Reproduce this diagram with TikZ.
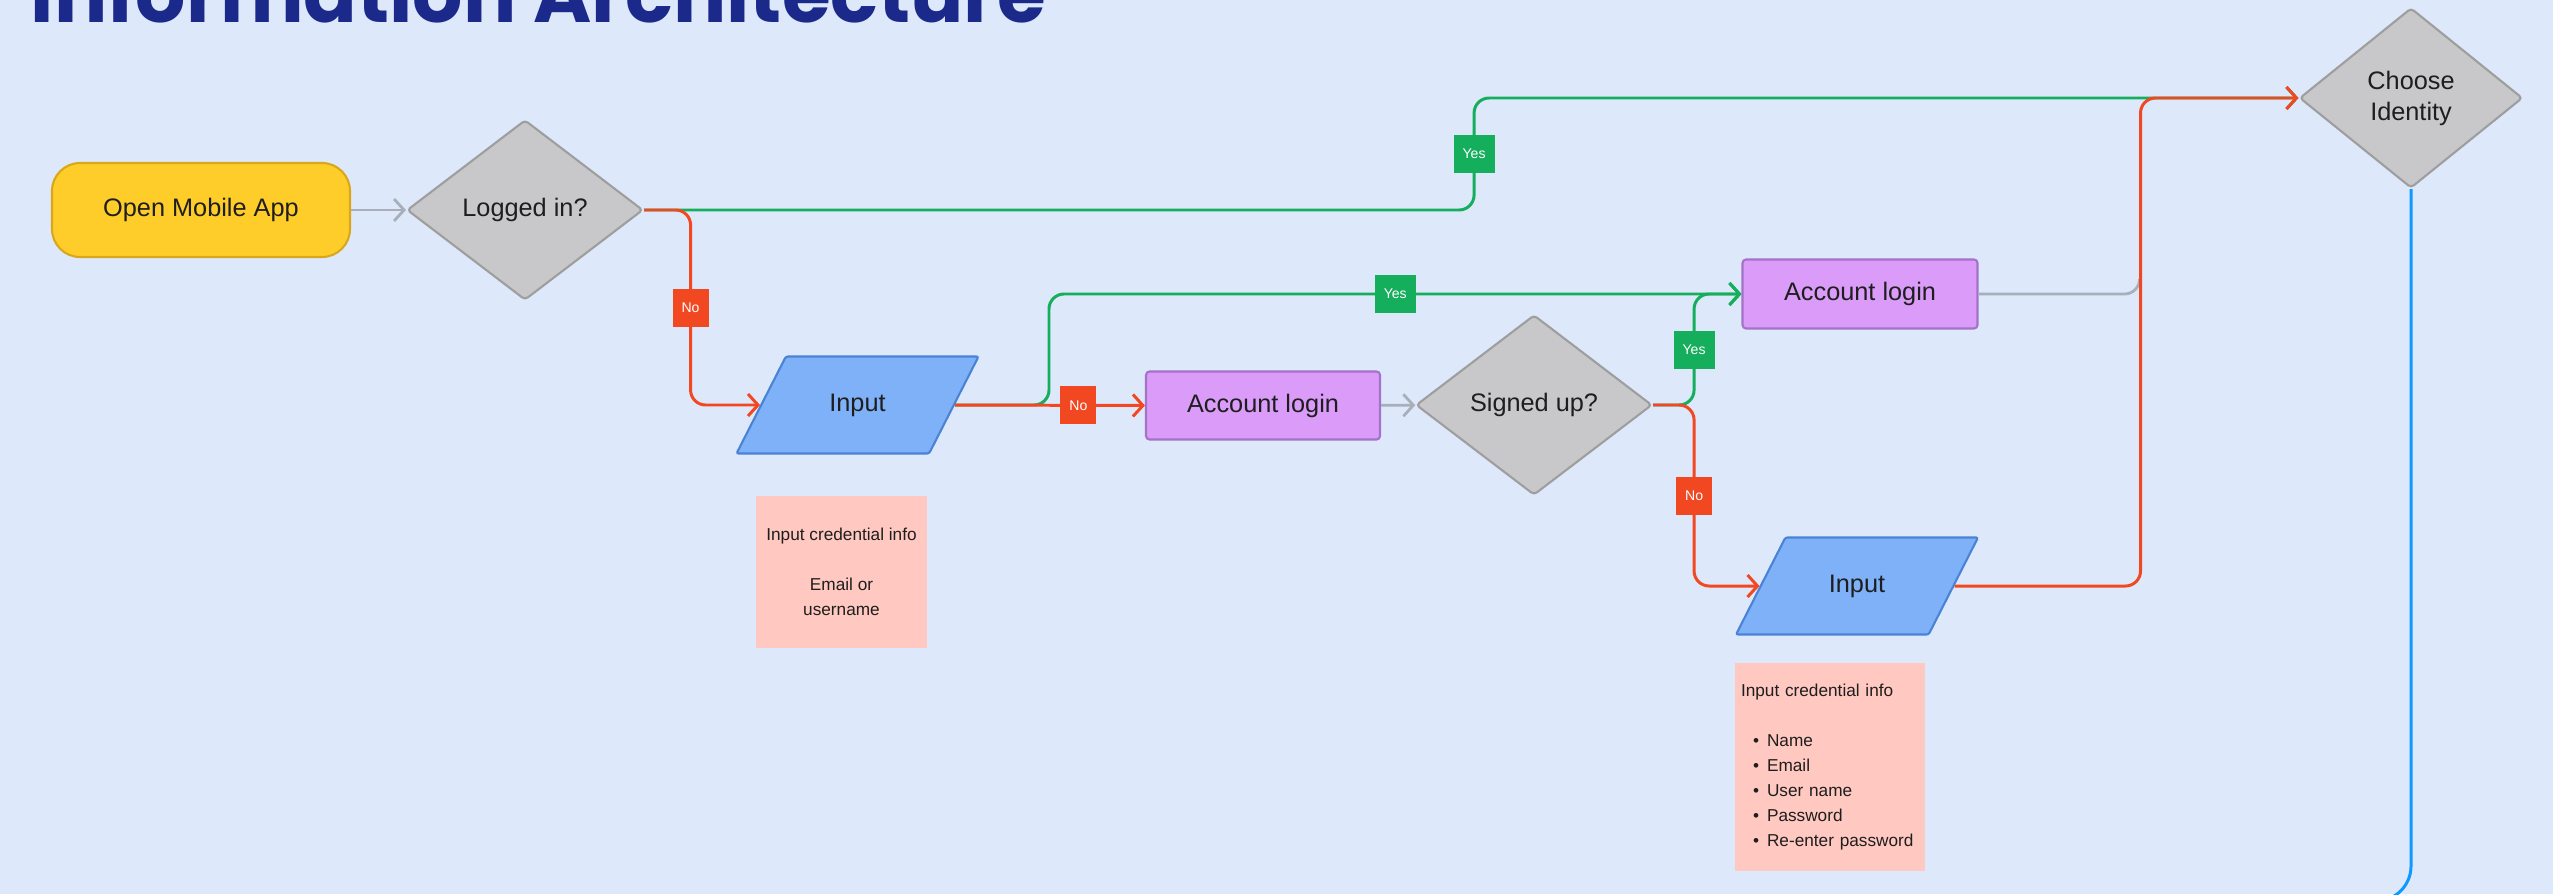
\documentclass[tikz,border=0pt]{standalone}
\usepackage{fontspec}
\setmainfont{Liberation Sans}
\newfontfamily\titlefont{Poppins}
\usepackage{tikz}
\usetikzlibrary{shapes.geometric, arrows.meta}

\definecolor{bgblue}{HTML}{DDE8FB}
\definecolor{titleblue}{HTML}{1B2A8A}
\definecolor{textdark}{HTML}{1E1E1E}
\definecolor{appyellow}{HTML}{FFCD29}
\definecolor{appyellowline}{HTML}{D9A81A}
\definecolor{decgray}{HTML}{C8C8CA}
\definecolor{decgrayline}{HTML}{9E9E9E}
\definecolor{inblue}{HTML}{7EB1F7}
\definecolor{inblueline}{HTML}{4A82D6}
\definecolor{loginpurple}{HTML}{DA9CF8}
\definecolor{loginpurpleline}{HTML}{A472C8}
\definecolor{notepink}{HTML}{FFC8C0}
\definecolor{yesgreen}{HTML}{14AE5C}
\definecolor{nored}{HTML}{F24822}
\definecolor{linkgray}{HTML}{A8AFBA}
\definecolor{flowblue}{HTML}{0D99FF}

\newcommand{\nodefont}{\fontsize{7.2}{8.8}\selectfont}
\newcommand{\notefont}{\fontsize{4.9}{7.1}\selectfont}
\newcommand{\tagfont}{\fontsize{4}{5}\selectfont}
\newcommand{\noteitem}[1]{\hspace*{1.2mm}\makebox[1.4mm][l]{\textbullet}#1}

\begin{document}
\begin{tikzpicture}[
        >={Straight Barb[length=1mm,width=2.2mm]},
        startbox/.style={rectangle, rounded corners=0.28cm, fill=appyellow, draw=appyellowline,
            line width=0.6pt, minimum width=2.98cm, minimum height=0.94cm, text=textdark, font=\nodefont},
        decision/.style={diamond, fill=decgray, draw=decgrayline, line width=0.6pt, rounded corners=1pt,
            minimum width=2.36cm, minimum height=1.8cm, inner sep=0pt, align=center, text=textdark, font=\nodefont},
        inputbox/.style={trapezium, trapezium left angle=63, trapezium right angle=117,
            trapezium stretches body, fill=inblue, draw=inblueline, line width=0.6pt, rounded corners=0.6pt,
            text height=5.2pt, text depth=1.5pt, inner ysep=0.367cm,
            minimum width=2.42cm, minimum height=0.97cm, text=textdark, font=\nodefont},
        loginbox/.style={rectangle, rounded corners=1pt, fill=loginpurple, draw=loginpurpleline,
            line width=0.6pt, minimum width=2.34cm, minimum height=0.68cm, text=textdark, font=\nodefont},
        notebox/.style={rectangle, fill=notepink, inner sep=0.06cm, text=textdark, font=\notefont},
        yeslabel/.style={rectangle, sharp corners, fill=yesgreen, text=white, minimum width=0.41cm,
            minimum height=0.38cm, inner sep=0pt, font=\tagfont},
        nolabel/.style={rectangle, sharp corners, fill=nored, text=white, minimum width=0.36cm,
            minimum height=0.38cm, inner sep=0pt, font=\tagfont},
        yesline/.style={draw=yesgreen, line width=0.85pt, rounded corners=0.15cm},
        noline/.style={draw=nored, line width=0.85pt, rounded corners=0.15cm},
        grayline/.style={draw=linkgray, line width=0.8pt, rounded corners=0.15cm},
        blueline/.style={draw=flowblue, line width=0.85pt, rounded corners=0.35cm}
    ]
        % Page frame and background
        \useasboundingbox (0,0) rectangle (25.53,8.94);
        \clip (0,0) rectangle (25.53,8.94);
        \fill[bgblue] (0,0) rectangle (25.53,8.94);

        % Title, cut by the top edge
        \node[anchor=base west, inner sep=0pt, text=titleblue,
            font={\titlefont\bfseries\fontsize{22.5}{23}\selectfont}] (title) at (0.30,8.71) {Information Architecture};

        % Flow nodes
        \node[startbox] (app) at (2.01,6.84) {Open Mobile App};
        \node[decision] (logged) at (5.25,6.84) {Logged in?};
        \node[inputbox] (inputA) at (8.575,4.89) {Input};
        \node[loginbox] (loginA) at (12.63,4.885) {Account login};
        \node[decision] (signed) at (15.34,4.89) {Signed up?};
        \node[loginbox, minimum width=2.35cm, minimum height=0.69cm] (loginB) at (18.60,6.00) {Account login};
        \node[inputbox] (inputB) at (18.57,3.08) {Input};
        \node[decision, minimum width=2.23cm] (identity) at (24.11,7.96) {Choose\\Identity};

        % Notes under the inputs
        \node[notebox, align=center, minimum width=1.71cm, minimum height=1.52cm] (noteA) at (8.415,3.22)
            {Input credential info\\[7.1pt]Email or\\username};
        \node[notebox, align=left, text width=1.78cm, minimum height=2.08cm] (noteB) at (18.30,1.27)
            {Input credential info\\[7.1pt]\noteitem{Name}\\\noteitem{Email}\\\noteitem{User name}\\
             \noteitem{Password}\\\noteitem{Re-enter password}};

        % Gray links
        \draw[grayline, ->] (app) -- (logged);
        \draw[grayline, ->] (loginA) -- (signed);
        \draw[grayline] (loginB.east) -| ++(1.61,0.15);

        % Yes branches
        \draw[yesline, ->] (logged.east) -| node[yeslabel, pos=0.75] (yesA) {Yes} ++(8.30,1.12) -- (identity.west);
        \draw[yesline, ->] (inputA.right side) -- ++(0.94,0) |- node[yeslabel, pos=0.75] (yesB) {Yes} (loginB.west);
        \draw[yesline, ->] (signed.east) -- ++(0.41,0) |- node[yeslabel, pos=0.25] (yesC) {Yes} (loginB.west);

        % No branches
        \draw[noline, ->] (logged.east) -- ++(0.465,0) |- node[nolabel, pos=0.25] (noA) {No} (inputA.left side);
        \draw[noline, ->] (inputA.right side) -- node[nolabel, pos=0.65] (noB) {No} (loginA.west);
        \draw[noline, ->] (signed.east) -- ++(0.41,0) |- node[nolabel, pos=0.25] (noC) {No} (inputB.left side);
        \draw[noline, ->] (inputB.right side) -- ++(1.86,0) |- (identity.west);

        % Line leaving the identity choice
        \draw[blueline] (identity.south) |- ++(-0.8,-7.12);
    \end{tikzpicture}
\end{document}
